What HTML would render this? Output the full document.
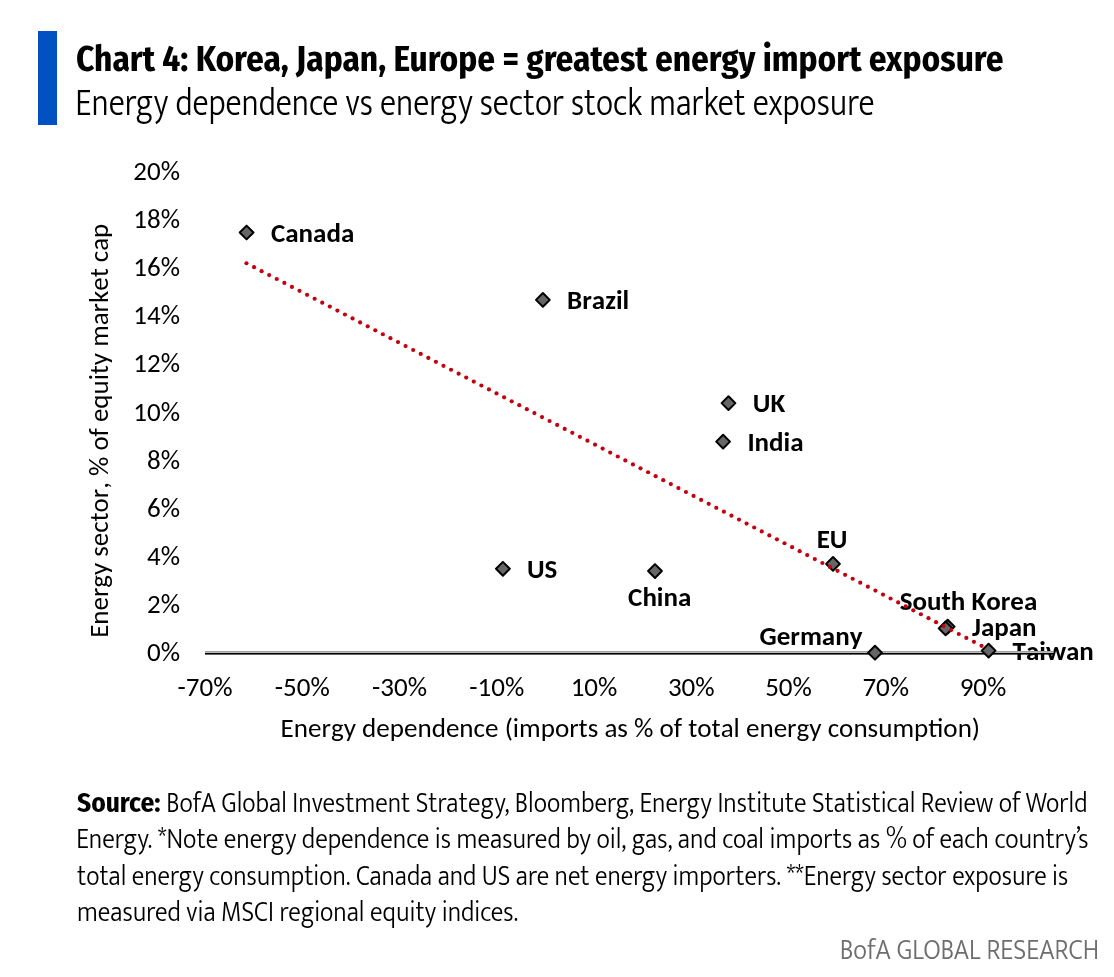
<!DOCTYPE html>
<html><head><meta charset="utf-8"><title>Chart 4</title>
<style>html,body{margin:0;padding:0;background:#fff;}body{width:1114px;height:977px;overflow:hidden;}svg{display:block;}.c{font-kerning:none;font-feature-settings:'kern' 0;}</style>
</head><body>
<svg width="1114" height="977" viewBox="0 0 1114 977">
<rect x="0" y="0" width="1114" height="977" fill="#fff"/>
<rect x="38" y="31" width="19" height="94" fill="#0151c3"/>
<text x="76.0" y="71.1" font-family="'Fira Sans Condensed', 'Liberation Sans', sans-serif" font-weight="700" font-size="35.7" textLength="927.5" lengthAdjust="spacingAndGlyphs" fill="#000">Chart 4: Korea, Japan, Europe = greatest energy import exposure</text>
<text x="75.3" y="114.9" font-family="'Mukta', 'Liberation Sans', sans-serif" font-weight="300" font-size="39.6" textLength="799.1" lengthAdjust="spacingAndGlyphs" fill="#000">Energy dependence vs energy sector stock market exposure</text>
<text x="180.0" y="661.00" text-anchor="end" class="c" font-family="Carlito, 'Liberation Sans', sans-serif" font-size="27.0" textLength="33" lengthAdjust="spacingAndGlyphs" fill="#000">0%</text>
<text x="180.0" y="612.90" text-anchor="end" class="c" font-family="Carlito, 'Liberation Sans', sans-serif" font-size="27.0" textLength="33" lengthAdjust="spacingAndGlyphs" fill="#000">2%</text>
<text x="180.0" y="564.80" text-anchor="end" class="c" font-family="Carlito, 'Liberation Sans', sans-serif" font-size="27.0" textLength="33" lengthAdjust="spacingAndGlyphs" fill="#000">4%</text>
<text x="180.0" y="516.70" text-anchor="end" class="c" font-family="Carlito, 'Liberation Sans', sans-serif" font-size="27.0" textLength="33" lengthAdjust="spacingAndGlyphs" fill="#000">6%</text>
<text x="180.0" y="468.60" text-anchor="end" class="c" font-family="Carlito, 'Liberation Sans', sans-serif" font-size="27.0" textLength="33" lengthAdjust="spacingAndGlyphs" fill="#000">8%</text>
<text x="180.0" y="420.50" text-anchor="end" class="c" font-family="Carlito, 'Liberation Sans', sans-serif" font-size="27.0" textLength="46.67" lengthAdjust="spacingAndGlyphs" fill="#000">10%</text>
<text x="180.0" y="372.40" text-anchor="end" class="c" font-family="Carlito, 'Liberation Sans', sans-serif" font-size="27.0" textLength="46.67" lengthAdjust="spacingAndGlyphs" fill="#000">12%</text>
<text x="180.0" y="324.30" text-anchor="end" class="c" font-family="Carlito, 'Liberation Sans', sans-serif" font-size="27.0" textLength="46.67" lengthAdjust="spacingAndGlyphs" fill="#000">14%</text>
<text x="180.0" y="276.20" text-anchor="end" class="c" font-family="Carlito, 'Liberation Sans', sans-serif" font-size="27.0" textLength="46.67" lengthAdjust="spacingAndGlyphs" fill="#000">16%</text>
<text x="180.0" y="228.10" text-anchor="end" class="c" font-family="Carlito, 'Liberation Sans', sans-serif" font-size="27.0" textLength="46.67" lengthAdjust="spacingAndGlyphs" fill="#000">18%</text>
<text x="180.0" y="180.00" text-anchor="end" class="c" font-family="Carlito, 'Liberation Sans', sans-serif" font-size="27.0" textLength="46.67" lengthAdjust="spacingAndGlyphs" fill="#000">20%</text>
<text x="205.00" y="695.9" text-anchor="middle" class="c" font-family="Carlito, 'Liberation Sans', sans-serif" font-size="27.0" textLength="54.94" lengthAdjust="spacingAndGlyphs" fill="#000">-70%</text>
<text x="302.25" y="695.9" text-anchor="middle" class="c" font-family="Carlito, 'Liberation Sans', sans-serif" font-size="27.0" textLength="54.94" lengthAdjust="spacingAndGlyphs" fill="#000">-50%</text>
<text x="399.50" y="695.9" text-anchor="middle" class="c" font-family="Carlito, 'Liberation Sans', sans-serif" font-size="27.0" textLength="54.94" lengthAdjust="spacingAndGlyphs" fill="#000">-30%</text>
<text x="496.75" y="695.9" text-anchor="middle" class="c" font-family="Carlito, 'Liberation Sans', sans-serif" font-size="27.0" textLength="54.94" lengthAdjust="spacingAndGlyphs" fill="#000">-10%</text>
<text x="594.00" y="695.9" text-anchor="middle" class="c" font-family="Carlito, 'Liberation Sans', sans-serif" font-size="27.0" textLength="46.67" lengthAdjust="spacingAndGlyphs" fill="#000">10%</text>
<text x="691.25" y="695.9" text-anchor="middle" class="c" font-family="Carlito, 'Liberation Sans', sans-serif" font-size="27.0" textLength="46.67" lengthAdjust="spacingAndGlyphs" fill="#000">30%</text>
<text x="788.50" y="695.9" text-anchor="middle" class="c" font-family="Carlito, 'Liberation Sans', sans-serif" font-size="27.0" textLength="46.67" lengthAdjust="spacingAndGlyphs" fill="#000">50%</text>
<text x="885.75" y="695.9" text-anchor="middle" class="c" font-family="Carlito, 'Liberation Sans', sans-serif" font-size="27.0" textLength="46.67" lengthAdjust="spacingAndGlyphs" fill="#000">70%</text>
<text x="983.00" y="695.9" text-anchor="middle" class="c" font-family="Carlito, 'Liberation Sans', sans-serif" font-size="27.0" textLength="46.67" lengthAdjust="spacingAndGlyphs" fill="#000">90%</text>
<text x="630.33" y="737.2" text-anchor="middle" class="c" font-family="Carlito, 'Liberation Sans', sans-serif" font-size="27.0" textLength="699.5" lengthAdjust="spacingAndGlyphs" fill="#000">Energy dependence (imports as % of total energy consumption)</text>
<text transform="translate(108 430.80) rotate(-90)" x="0" y="0" text-anchor="middle" class="c" font-family="Carlito, 'Liberation Sans', sans-serif" font-size="27.0" textLength="414.1" lengthAdjust="spacingAndGlyphs" fill="#000">Energy sector, % of equity market cap</text>
<text x="271.00" y="241.70" class="c" font-family="Carlito, 'Liberation Sans', sans-serif" font-weight="700" font-size="27.0" textLength="83.27" lengthAdjust="spacingAndGlyphs" fill="#000">Canada</text>
<text x="567.10" y="308.90" class="c" font-family="Carlito, 'Liberation Sans', sans-serif" font-weight="700" font-size="27.0" textLength="62.06" lengthAdjust="spacingAndGlyphs" fill="#000">Brazil</text>
<text x="752.80" y="412.10" class="c" font-family="Carlito, 'Liberation Sans', sans-serif" font-weight="700" font-size="27.0" textLength="32.41" lengthAdjust="spacingAndGlyphs" fill="#000">UK</text>
<text x="747.40" y="450.80" class="c" font-family="Carlito, 'Liberation Sans', sans-serif" font-weight="700" font-size="27.0" textLength="56.14" lengthAdjust="spacingAndGlyphs" fill="#000">India</text>
<text x="816.70" y="547.80" class="c" font-family="Carlito, 'Liberation Sans', sans-serif" font-weight="700" font-size="27.0" textLength="30.8" lengthAdjust="spacingAndGlyphs" fill="#000">EU</text>
<text x="526.90" y="578.00" class="c" font-family="Carlito, 'Liberation Sans', sans-serif" font-weight="700" font-size="27.0" textLength="30.39" lengthAdjust="spacingAndGlyphs" fill="#000">US</text>
<text x="628.10" y="606.00" class="c" font-family="Carlito, 'Liberation Sans', sans-serif" font-weight="700" font-size="27.0" textLength="63.23" lengthAdjust="spacingAndGlyphs" fill="#000">China</text>
<text x="759.50" y="644.60" class="c" font-family="Carlito, 'Liberation Sans', sans-serif" font-weight="700" font-size="27.0" textLength="102.97" lengthAdjust="spacingAndGlyphs" fill="#000">Germany</text>
<text x="899.70" y="609.70" class="c" font-family="Carlito, 'Liberation Sans', sans-serif" font-weight="700" font-size="27.0" textLength="137.53" lengthAdjust="spacingAndGlyphs" fill="#000">South Korea</text>
<text x="972.00" y="635.50" class="c" font-family="Carlito, 'Liberation Sans', sans-serif" font-weight="700" font-size="27.0" textLength="64.58" lengthAdjust="spacingAndGlyphs" fill="#000">Japan</text>
<text x="1012.55" y="659.90" class="c" font-family="Carlito, 'Liberation Sans', sans-serif" font-weight="700" font-size="27.0" textLength="81.27" lengthAdjust="spacingAndGlyphs" fill="#000">Taiwan</text>
<rect x="205" y="651" width="848.5" height="1" fill="#a0a0a0"/>
<rect x="205" y="652" width="848.5" height="1" fill="#bcbcbc"/>
<rect x="205" y="653" width="848.5" height="1" fill="#000"/>
<rect x="205" y="654" width="848.5" height="0.6" fill="#000"/>
<path d="M246.60 225.60L253.50 232.50L246.60 239.40L239.70 232.50Z" fill="#666" stroke="#000" stroke-width="2" stroke-linejoin="round"/>
<path d="M542.90 293.00L549.80 299.90L542.90 306.80L536.00 299.90Z" fill="#666" stroke="#000" stroke-width="2" stroke-linejoin="round"/>
<path d="M728.50 396.20L735.40 403.10L728.50 410.00L721.60 403.10Z" fill="#666" stroke="#000" stroke-width="2" stroke-linejoin="round"/>
<path d="M723.10 434.70L730.00 441.60L723.10 448.50L716.20 441.60Z" fill="#666" stroke="#000" stroke-width="2" stroke-linejoin="round"/>
<path d="M833.00 557.00L839.90 563.90L833.00 570.80L826.10 563.90Z" fill="#666" stroke="#000" stroke-width="2" stroke-linejoin="round"/>
<path d="M502.90 561.90L509.80 568.80L502.90 575.70L496.00 568.80Z" fill="#666" stroke="#000" stroke-width="2" stroke-linejoin="round"/>
<path d="M655.00 564.15L661.90 571.05L655.00 577.95L648.10 571.05Z" fill="#666" stroke="#000" stroke-width="2" stroke-linejoin="round"/>
<path d="M875.00 645.80L881.90 652.70L875.00 659.60L868.10 652.70Z" fill="#666" stroke="#000" stroke-width="2" stroke-linejoin="round"/>
<path d="M947.70 619.70L954.60 626.60L947.70 633.50L940.80 626.60Z" fill="#666" stroke="#000" stroke-width="2" stroke-linejoin="round"/>
<path d="M945.60 621.50L952.50 628.40L945.60 635.30L938.70 628.40Z" fill="#666" stroke="#000" stroke-width="2" stroke-linejoin="round"/>
<path d="M988.60 643.70L995.50 650.60L988.60 657.50L981.70 650.60Z" fill="#666" stroke="#000" stroke-width="2" stroke-linejoin="round"/>
<circle cx="246.45" cy="263.24" r="2.1" fill="#c3000f"/>
<circle cx="254.03" cy="267.18" r="2.1" fill="#c3000f"/>
<circle cx="261.61" cy="271.13" r="2.1" fill="#c3000f"/>
<circle cx="269.18" cy="275.07" r="2.1" fill="#c3000f"/>
<circle cx="276.76" cy="279.02" r="2.1" fill="#c3000f"/>
<circle cx="284.34" cy="282.96" r="2.1" fill="#c3000f"/>
<circle cx="291.92" cy="286.90" r="2.1" fill="#c3000f"/>
<circle cx="299.50" cy="290.85" r="2.1" fill="#c3000f"/>
<circle cx="307.07" cy="294.79" r="2.1" fill="#c3000f"/>
<circle cx="314.65" cy="298.74" r="2.1" fill="#c3000f"/>
<circle cx="322.23" cy="302.68" r="2.1" fill="#c3000f"/>
<circle cx="329.81" cy="306.62" r="2.1" fill="#c3000f"/>
<circle cx="337.39" cy="310.57" r="2.1" fill="#c3000f"/>
<circle cx="344.96" cy="314.51" r="2.1" fill="#c3000f"/>
<circle cx="352.54" cy="318.46" r="2.1" fill="#c3000f"/>
<circle cx="360.12" cy="322.40" r="2.1" fill="#c3000f"/>
<circle cx="367.70" cy="326.34" r="2.1" fill="#c3000f"/>
<circle cx="375.28" cy="330.29" r="2.1" fill="#c3000f"/>
<circle cx="382.85" cy="334.23" r="2.1" fill="#c3000f"/>
<circle cx="390.43" cy="338.18" r="2.1" fill="#c3000f"/>
<circle cx="398.01" cy="342.12" r="2.1" fill="#c3000f"/>
<circle cx="405.59" cy="346.06" r="2.1" fill="#c3000f"/>
<circle cx="413.17" cy="350.01" r="2.1" fill="#c3000f"/>
<circle cx="420.74" cy="353.95" r="2.1" fill="#c3000f"/>
<circle cx="428.32" cy="357.90" r="2.1" fill="#c3000f"/>
<circle cx="435.90" cy="361.84" r="2.1" fill="#c3000f"/>
<circle cx="443.48" cy="365.78" r="2.1" fill="#c3000f"/>
<circle cx="451.06" cy="369.73" r="2.1" fill="#c3000f"/>
<circle cx="458.63" cy="373.67" r="2.1" fill="#c3000f"/>
<circle cx="466.21" cy="377.62" r="2.1" fill="#c3000f"/>
<circle cx="473.79" cy="381.56" r="2.1" fill="#c3000f"/>
<circle cx="481.37" cy="385.50" r="2.1" fill="#c3000f"/>
<circle cx="488.95" cy="389.45" r="2.1" fill="#c3000f"/>
<circle cx="496.52" cy="393.39" r="2.1" fill="#c3000f"/>
<circle cx="504.10" cy="397.34" r="2.1" fill="#c3000f"/>
<circle cx="511.68" cy="401.28" r="2.1" fill="#c3000f"/>
<circle cx="519.26" cy="405.22" r="2.1" fill="#c3000f"/>
<circle cx="526.84" cy="409.17" r="2.1" fill="#c3000f"/>
<circle cx="534.41" cy="413.11" r="2.1" fill="#c3000f"/>
<circle cx="541.99" cy="417.06" r="2.1" fill="#c3000f"/>
<circle cx="549.57" cy="421.00" r="2.1" fill="#c3000f"/>
<circle cx="557.15" cy="424.94" r="2.1" fill="#c3000f"/>
<circle cx="564.73" cy="428.89" r="2.1" fill="#c3000f"/>
<circle cx="572.30" cy="432.83" r="2.1" fill="#c3000f"/>
<circle cx="579.88" cy="436.78" r="2.1" fill="#c3000f"/>
<circle cx="587.46" cy="440.72" r="2.1" fill="#c3000f"/>
<circle cx="595.04" cy="444.66" r="2.1" fill="#c3000f"/>
<circle cx="602.62" cy="448.61" r="2.1" fill="#c3000f"/>
<circle cx="610.19" cy="452.55" r="2.1" fill="#c3000f"/>
<circle cx="617.77" cy="456.50" r="2.1" fill="#c3000f"/>
<circle cx="625.35" cy="460.44" r="2.1" fill="#c3000f"/>
<circle cx="632.93" cy="464.38" r="2.1" fill="#c3000f"/>
<circle cx="640.51" cy="468.33" r="2.1" fill="#c3000f"/>
<circle cx="648.08" cy="472.27" r="2.1" fill="#c3000f"/>
<circle cx="655.66" cy="476.22" r="2.1" fill="#c3000f"/>
<circle cx="663.24" cy="480.16" r="2.1" fill="#c3000f"/>
<circle cx="670.82" cy="484.10" r="2.1" fill="#c3000f"/>
<circle cx="678.40" cy="488.05" r="2.1" fill="#c3000f"/>
<circle cx="685.97" cy="491.99" r="2.1" fill="#c3000f"/>
<circle cx="693.55" cy="495.94" r="2.1" fill="#c3000f"/>
<circle cx="701.13" cy="499.88" r="2.1" fill="#c3000f"/>
<circle cx="708.71" cy="503.82" r="2.1" fill="#c3000f"/>
<circle cx="716.29" cy="507.77" r="2.1" fill="#c3000f"/>
<circle cx="723.86" cy="511.71" r="2.1" fill="#c3000f"/>
<circle cx="731.44" cy="515.66" r="2.1" fill="#c3000f"/>
<circle cx="739.02" cy="519.60" r="2.1" fill="#c3000f"/>
<circle cx="746.60" cy="523.54" r="2.1" fill="#c3000f"/>
<circle cx="754.18" cy="527.49" r="2.1" fill="#c3000f"/>
<circle cx="761.75" cy="531.43" r="2.1" fill="#c3000f"/>
<circle cx="769.33" cy="535.38" r="2.1" fill="#c3000f"/>
<circle cx="776.91" cy="539.32" r="2.1" fill="#c3000f"/>
<circle cx="784.49" cy="543.26" r="2.1" fill="#c3000f"/>
<circle cx="792.07" cy="547.21" r="2.1" fill="#c3000f"/>
<circle cx="799.64" cy="551.15" r="2.1" fill="#c3000f"/>
<circle cx="807.22" cy="555.10" r="2.1" fill="#c3000f"/>
<circle cx="814.80" cy="559.04" r="2.1" fill="#c3000f"/>
<circle cx="822.38" cy="562.98" r="2.1" fill="#c3000f"/>
<circle cx="829.96" cy="566.93" r="2.1" fill="#c3000f"/>
<circle cx="837.53" cy="570.87" r="2.1" fill="#c3000f"/>
<circle cx="845.11" cy="574.82" r="2.1" fill="#c3000f"/>
<circle cx="852.69" cy="578.76" r="2.1" fill="#c3000f"/>
<circle cx="860.27" cy="582.70" r="2.1" fill="#c3000f"/>
<circle cx="867.85" cy="586.65" r="2.1" fill="#c3000f"/>
<circle cx="875.42" cy="590.59" r="2.1" fill="#c3000f"/>
<circle cx="883.00" cy="594.54" r="2.1" fill="#c3000f"/>
<circle cx="890.58" cy="598.48" r="2.1" fill="#c3000f"/>
<circle cx="898.16" cy="602.42" r="2.1" fill="#c3000f"/>
<circle cx="905.74" cy="606.37" r="2.1" fill="#c3000f"/>
<circle cx="913.31" cy="610.31" r="2.1" fill="#c3000f"/>
<circle cx="920.89" cy="614.26" r="2.1" fill="#c3000f"/>
<circle cx="928.47" cy="618.20" r="2.1" fill="#c3000f"/>
<circle cx="936.05" cy="622.14" r="2.1" fill="#c3000f"/>
<circle cx="943.63" cy="626.09" r="2.1" fill="#c3000f"/>
<circle cx="951.20" cy="630.03" r="2.1" fill="#c3000f"/>
<circle cx="958.78" cy="633.98" r="2.1" fill="#c3000f"/>
<circle cx="966.36" cy="637.92" r="2.1" fill="#c3000f"/>
<circle cx="973.94" cy="641.86" r="2.1" fill="#c3000f"/>
<circle cx="981.52" cy="645.81" r="2.1" fill="#c3000f"/>
<text x="77" y="811.5" font-family="'Fira Sans Condensed', 'Liberation Sans', sans-serif" font-weight="700" font-size="27.2" textLength="83.5" lengthAdjust="spacingAndGlyphs" fill="#000">Source:</text>
<text x="166.2" y="811.6" font-family="'Mukta', 'Liberation Sans', sans-serif" font-weight="300" font-size="30.0" textLength="921.3" lengthAdjust="spacingAndGlyphs" fill="#000">BofA Global Investment Strategy, Bloomberg, Energy Institute Statistical Review of World</text>
<text x="76.2" y="847.9" font-family="'Mukta', 'Liberation Sans', sans-serif" font-weight="300" font-size="30.0" textLength="1012.4" lengthAdjust="spacingAndGlyphs" fill="#000">Energy. *Note energy dependence is measured by oil, gas, and coal imports as % of each country’s</text>
<text x="77.0" y="884.6" font-family="'Mukta', 'Liberation Sans', sans-serif" font-weight="300" font-size="30.0" textLength="991.2" lengthAdjust="spacingAndGlyphs" fill="#000">total energy consumption. Canada and US are net energy importers. **Energy sector exposure is</text>
<text x="77.0" y="921.4" font-family="'Mukta', 'Liberation Sans', sans-serif" font-weight="300" font-size="30.0" textLength="441.0" lengthAdjust="spacingAndGlyphs" fill="#000">measured via MSCI regional equity indices.</text>
<text x="839.8" y="958.6" font-family="'Mukta', 'Liberation Sans', sans-serif" font-weight="300" font-size="30.0" textLength="259.2" lengthAdjust="spacingAndGlyphs" fill="#6e6e6e">BofA GLOBAL RESEARCH</text>
</svg>
</body></html>
